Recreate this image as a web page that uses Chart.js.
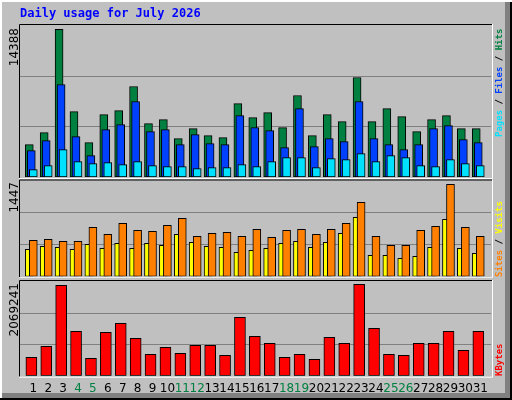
<!DOCTYPE html>
<html><head><meta charset="utf-8">
<script src="https://cdn.jsdelivr.net/npm/chart.js@4/dist/chart.umd.min.js"></script>
<style>
html,body{margin:0;padding:0;background:#C0C0C0;}
#wrap{position:relative;width:512px;height:400px;overflow:hidden;}
canvas{position:absolute;left:0;}
</style></head>
<body><div id="wrap">
<canvas id="bg" width="512" height="400" style="top:0"></canvas>
<canvas id="c1" width="512" height="180" style="top:0"></canvas>
<canvas id="c2" width="512" height="100" style="top:178px"></canvas>
<canvas id="c3" width="512" height="122" style="top:278px"></canvas>
</div>
<script>
const title = "Daily usage for July 2026";
const days = [1,2,3,4,5,6,7,8,9,10,11,12,13,14,15,16,17,18,19,20,21,22,23,24,25,26,27,28,29,30,31];
const weekend = [4,5,11,12,18,19,25,26];
const hits = [3156,4328,14388,6380,3351,6087,6478,8822,5207,5598,3742,4719,4035,3840,7161,5794,6282,4817,7943,4035,6087,5403,9702,5403,6673,5891,4426,5598,5989,4719,4719];
const files = [2570,3547,9018,3937,2081,4621,5110,7357,4426,4621,3156,4133,3253,3156,5989,4817,4524,2863,6673,2960,3742,3449,7357,3742,3156,2667,3156,4719,5012,3644,3351];
const pages = [713,1104,2667,1495,1299,1397,1202,1495,1104,1006,1006,811,909,909,1202,1006,1495,1886,1886,909,1788,1690,2276,1495,2081,1886,1104,1006,1690,1299,1104];
const sites = [425,472,456,425,503,440,519,440,519,488,661,535,472,456,378,409,440,519,551,456,535,676,928,330,330,283,315,456,897,440,362];
const visits = [566,582,551,551,771,661,834,724,708,802,912,629,676,692,629,739,613,724,739,661,739,834,1164,629,488,488,724,787,1447,771,629];
const kbytes = [414751,664055,2046558,1004015,392087,981351,1185327,845367,482743,641391,505407,686719,686719,460079,1321311,890695,732047,414751,482743,369423,868031,732047,2069241,1072007,482743,460079,732047,732047,1004015,573399,1004015];
const maxLabels = ["14388","1447","2069241"];
const axisMax = [14820,1507,2146000];

(function(){
  const c=document.getElementById('bg').getContext('2d');
  c.fillStyle='#C0C0C0';c.fillRect(0,0,512,400);
  c.fillStyle='#808080';c.fillRect(505,0,7,400);c.fillRect(0,393,512,7);
  c.fillStyle='#000';c.fillRect(510,0,2,400);c.fillRect(0,398,512,2);
  c.fillStyle='#fff';c.fillRect(0,0,512,2);c.fillRect(0,0,2,398);
})();

const pts=(arr,off)=>arr.map((v,i)=>({x:days[i]+off,y:v}));

function framePlugin(idx, sideParts, sideY, maxTop, extra){
  return {
    id:'frame'+idx,
    beforeDatasetsDraw(ch){
      const a=ch.chartArea, c=ch.ctx, y=ch.scales.y;
      c.save();
      c.strokeStyle='#808080';c.lineWidth=1;
      for(let k=1;k<=2;k++){
        const py=Math.round(y.getPixelForValue(axisMax[idx]*k/3))+0.5;
        c.beginPath();c.moveTo(a.left,py);c.lineTo(a.right,py);c.stroke();
      }
      c.restore();
    },
    afterDraw(ch){
      const a=ch.chartArea, c=ch.ctx;
      c.save();
      c.lineWidth=1;
      c.strokeStyle='#000';
      c.beginPath();c.moveTo(a.left-0.5,a.bottom+1);c.lineTo(a.left-0.5,a.top-0.5);c.lineTo(a.right+1,a.top-0.5);c.stroke();
      c.strokeStyle='#fff';
      c.beginPath();c.moveTo(a.right+1.5,a.top-1);c.lineTo(a.right+1.5,a.bottom+1.5);c.lineTo(a.left-1,a.bottom+1.5);c.stroke();
      c.translate(15,maxTop);c.rotate(-Math.PI/2);
      c.font='12px "DejaVu Sans"';c.fillStyle='#000';c.textAlign='right';c.textBaseline='middle';
      c.fillText(maxLabels[idx],0,0);
      c.restore();
      c.save();
      c.translate(500,sideY);c.rotate(-Math.PI/2);
      c.font='bold 9px "DejaVu Sans Mono"';c.textBaseline='middle';c.textAlign='left';
      let x=0;
      for(const [t,col] of sideParts){c.fillStyle=col;c.fillText(t,x,0);x+=c.measureText(t).width;}
      c.restore();
      if(extra) extra(ch);
    }
  };
}

function opts(padTop,padBottom){
  return {
    responsive:false,animation:false,devicePixelRatio:1,
    layout:{padding:{left:20,right:21,top:padTop,bottom:padBottom}},
    plugins:{legend:{display:false},tooltip:{enabled:false},title:{display:false}},
    scales:{
      x:{type:'linear',min:0.107,max:31.72,display:false,offset:false},
      y:{min:0,display:false}
    }
  };
}
function ds(data,color,w){return {data,backgroundColor:color,borderColor:'#000',borderWidth:1,barThickness:w,grouped:false,borderSkipped:false};}

const o1=opts(25,3); o1.scales.y.max=axisMax[0];
new Chart(document.getElementById('c1'),{type:'bar',
  data:{datasets:[ds(pts(pages,0),'#00E0FF',8),ds(pts(files,-0.135),'#0040FF',8),ds(pts(hits,-0.27),'#008040',8)]},
  options:o1,
  plugins:[framePlugin(0,[['Pages','#00E0FF'],[' / ','#000'],['Files','#0040FF'],[' / ','#000'],['Hits','#008040']],137,28,(ch)=>{
    const c=ch.ctx;c.save();c.font='bold 12px "DejaVu Sans Mono"';c.fillStyle='#0000FF';c.textBaseline='middle';
    c.fillText(title,20,14);c.restore();
  })]
});
const o2=opts(2.5,1.7); o2.scales.y.max=axisMax[1];
new Chart(document.getElementById('c2'),{type:'bar',
  data:{datasets:[ds(pts(visits,0),'#FF8000',8),ds(pts(sites,-0.27),'#FFFF00',8)]},
  options:o2,
  plugins:[framePlugin(1,[['Sites','#FF8000'],[' / ','#000'],['Visits','#FFFF00']],277-178,182-178)]
});
const o3=opts(3,24.3); o3.scales.y.max=axisMax[2];
new Chart(document.getElementById('c3'),{type:'bar',
  data:{datasets:[ds(pts(kbytes,-0.13),'#FF0000',11)]},
  options:o3,
  plugins:[framePlugin(2,[['KBytes','#FF0000']],376-278,283-278,(ch)=>{
    const c=ch.ctx,xs=ch.scales.x;c.save();c.font='12px "DejaVu Sans"';c.textAlign='center';c.textBaseline='middle';
    days.forEach(d=>{c.fillStyle=weekend.includes(d)?'#008040':'#000';c.fillText(String(d),xs.getPixelForValue(d),389-278);});
    c.restore();
  })]
});
</script></body></html>
